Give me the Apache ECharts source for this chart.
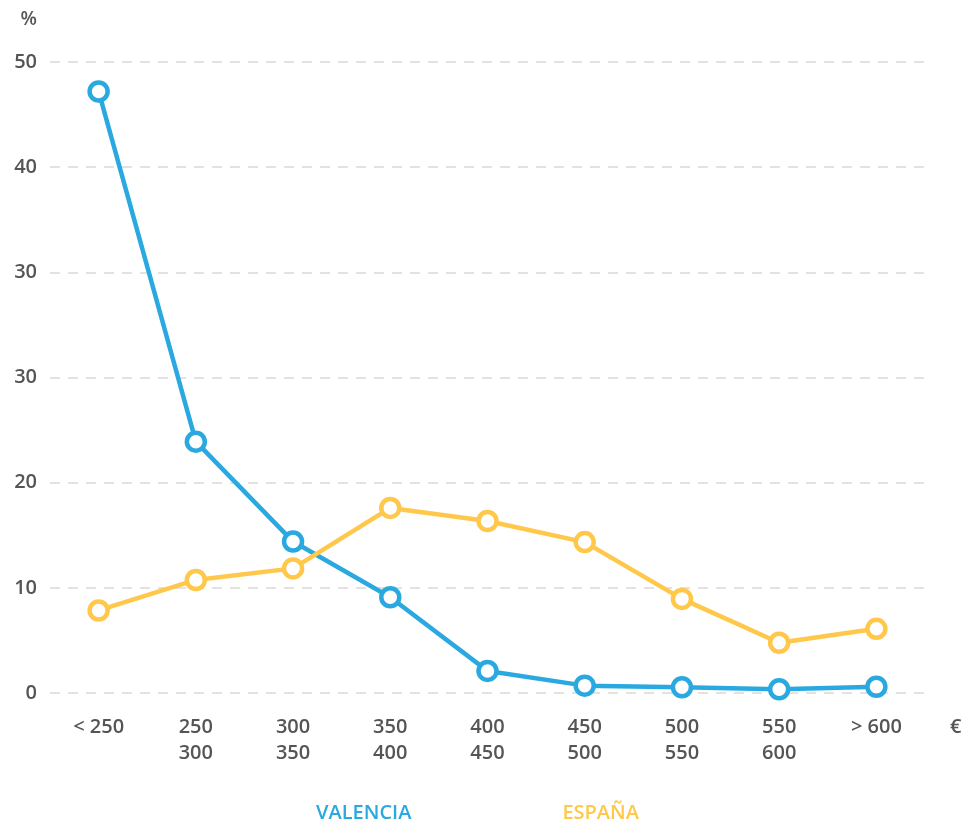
<!DOCTYPE html>
<html>
<head>
<meta charset="utf-8">
<script src="https://cdn.jsdelivr.net/npm/echarts@6/dist/echarts.min.js"></script>
<style>
  html, body { margin: 0; padding: 0; background: #fff; }
  #main { width: 968px; height: 825px; }
</style>
</head>
<body>
<div id="main"></div>
<script>
// tramos de precio (€)
var categories = ['< 250', '250\n300', '300\n350', '350\n400', '400\n450', '450\n500', '500\n550', '550\n600', '> 600'];
// the source chart labels its grid lines like this (30 appears twice)
var yTickLabels = ['0', '10', '20', '30', '30', '40', '50'];
var valencia = [57.2, 23.9, 14.4, 9.1, 2.1, 0.7, 0.55, 0.35, 0.6];
var espana = [7.85, 10.75, 11.85, 17.6, 16.35, 14.35, 8.95, 4.78, 6.1];

var blue = '#2aa9e0';
var yellow = '#ffc84b';
var grey = '#555555';
var font = '"Open Sans", sans-serif';

function serie(name, data, color) {
    return {
        name: name,
        type: 'line',
        data: data,
        symbol: 'circle',
        symbolSize: 18,
        showAllSymbol: true,
        lineStyle: { color: color, width: 4.5 },
        itemStyle: { color: '#fff', borderColor: color, borderWidth: 4.5 },
        emphasis: { disabled: true }
    };
}

echarts.init(document.getElementById('main')).setOption({
    animation: false,
    grid: { left: 50, right: 43, top: 62, bottom: 132 },
    legend: {
        bottom: -3,
        left: 305,
        itemWidth: 0,
        itemHeight: 0,
        itemGap: 145,
        icon: 'rect',
        textStyle: { fontFamily: font, fontSize: 20, fontWeight: 600 },
        data: [
            { name: 'VALENCIA', textStyle: { color: blue } },
            { name: 'ESPAÑA', textStyle: { color: yellow } }
        ]
    },
    xAxis: {
        type: 'category',
        data: categories,
        name: '€',
        nameLocation: 'end',
        nameGap: 25,
        nameTextStyle: { color: grey, fontFamily: font, fontSize: 20, fontWeight: 600, verticalAlign: 'top', align: 'left', padding: [24, 0, 0, 0] },
        axisLine: { show: false },
        axisTick: { show: false },
        axisLabel: { color: grey, fontFamily: font, fontSize: 20, fontWeight: 600, lineHeight: 26, margin: 21, interval: 0 }
    },
    yAxis: {
        type: 'value',
        min: 0,
        max: 60,
        interval: 10,
        name: '%',
        nameLocation: 'end',
        nameGap: 42,
        nameTextStyle: { color: grey, fontFamily: font, fontSize: 19, fontWeight: 600, align: 'right', verticalAlign: 'middle', padding: [0, 13, 0, 0] },
        axisLine: { show: false },
        axisTick: { show: false },
        axisLabel: {
            color: grey, fontFamily: font, fontSize: 20, fontWeight: 600, margin: 13,
            formatter: function (v) { return yTickLabels[Math.round(v / 10)]; }
        },
        splitLine: { lineStyle: { color: '#e2e2e2', width: 2, type: [10, 8] } }
    },
    series: [
        serie('VALENCIA', valencia, blue),
        serie('ESPAÑA', espana, yellow)
    ]
});
</script>
</body>
</html>
